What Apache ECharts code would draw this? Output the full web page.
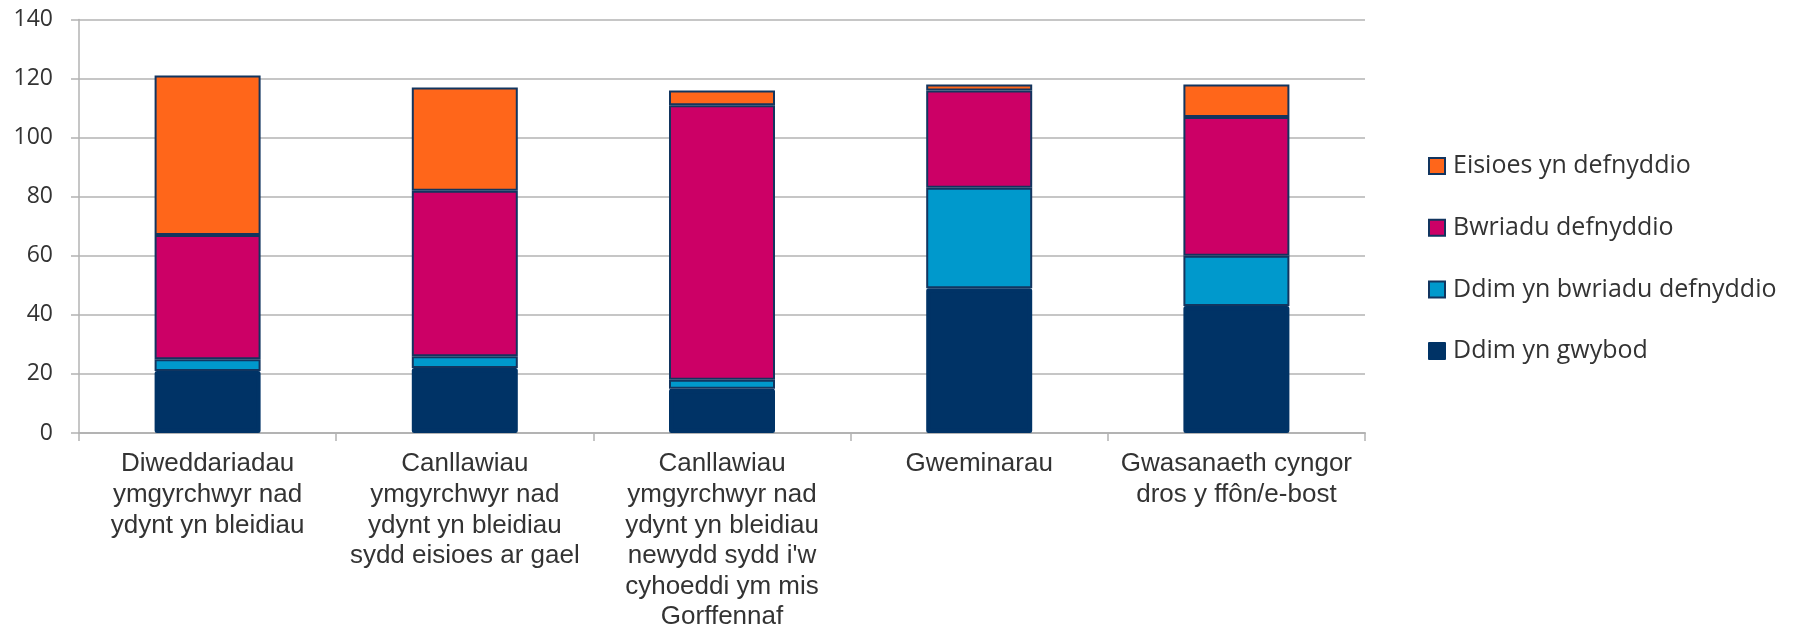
<!DOCTYPE html>
<html>
<head>
<meta charset="utf-8">
<script src="https://cdn.jsdelivr.net/npm/echarts@6/dist/echarts.min.js"></script>
<style>
    html, body { margin: 0; padding: 0; background: #fff; }
    #chart { width: 1802px; height: 631px; }
</style>
</head>
<body>
<div id="chart"></div>
<script>
    const categories = [
        'Diweddariadau\nymgyrchwyr nad\nydynt yn bleidiau',
        'Canllawiau\nymgyrchwyr nad\nydynt yn bleidiau\nsydd eisioes ar gael',
        "Canllawiau\nymgyrchwyr nad\nydynt yn bleidiau\nnewydd sydd i'w\ncyhoeddi ym mis\nGorffennaf",
        'Gweminarau',
        'Gwasanaeth cyngor\ndros y ffôn/e-bost'
    ];
    const ddimGwybod = [21, 22, 15, 49, 43];
    const ddimBwriadu = [4, 4, 3, 34, 17];
    const bwriadu = [42, 56, 93, 33, 47];
    const eisioes = [54, 35, 5, 2, 11];
    const yTicks = [0, 20, 40, 60, 80, 100, 120, 140];

    const edge = '#12355f';
    const chart = echarts.init(document.getElementById('chart'));

    function seg(name, data, color, z) {
        return {
            name: name,
            type: 'bar',
            stack: 'total',
            barWidth: 106,
            z: z,
            data: data,
            itemStyle: {color: color, borderColor: edge, borderWidth: 2}
        };
    }

    chart.setOption({
        animation: false,
        grid: {left: 79, right: 437, top: 19.5, bottom: 198, containLabel: false, outerBoundsMode: 'none'},
        legend: {
            orient: 'vertical',
            left: 1423,
            top: 148,
            itemWidth: 16,
            itemHeight: 16,
            itemGap: 35.7,
            icon: 'rect',
            data: ['Eisioes yn defnyddio', 'Bwriadu defnyddio', 'Ddim yn bwriadu defnyddio', 'Ddim yn gwybod'],
            textStyle: {fontFamily: 'Open Sans', fontSize: 25, color: '#333', lineHeight: 26, padding: [0, 0, 0, 3]}
        },
        xAxis: {
            type: 'category',
            data: categories,
            axisLine: {lineStyle: {color: '#b3b3b3', width: 2}},
            axisTick: {show: true, length: 8, lineStyle: {color: '#b3b3b3', width: 1.5}},
            axisLabel: {
                interval: 0,
                margin: 16,
                fontFamily: 'Liberation Sans',
                fontSize: 26,
                lineHeight: 30.6,
                color: '#333'
            }
        },
        yAxis: {
            type: 'value',
            min: yTicks[0],
            max: yTicks[yTicks.length - 1],
            interval: 20,
            axisLine: {show: true, lineStyle: {color: '#b3b3b3', width: 1.5}},
            axisTick: {show: true, length: 8, lineStyle: {color: '#b3b3b3', width: 1.5}},
            splitLine: {lineStyle: {color: '#b3b3b3', width: 1.5}},
            axisLabel: {margin: 26, fontFamily: 'Open Sans', fontSize: 23, color: '#333'}
        },
        series: [
            {
                name: 'Ddim yn gwybod',
                type: 'bar',
                stack: 'total',
                barWidth: 106,
                z: 3,
                data: ddimGwybod,
                itemStyle: {color: '#003366', borderColor: '#003366', borderWidth: 4.5, borderJoin: 'round'}
            },
            seg('Ddim yn bwriadu defnyddio', ddimBwriadu, '#0099cc', 2),
            seg('Bwriadu defnyddio', bwriadu, '#cc0066', 2),
            seg('Eisioes yn defnyddio', eisioes, '#ff661a', 2)
        ]
    });
</script>
</body>
</html>
